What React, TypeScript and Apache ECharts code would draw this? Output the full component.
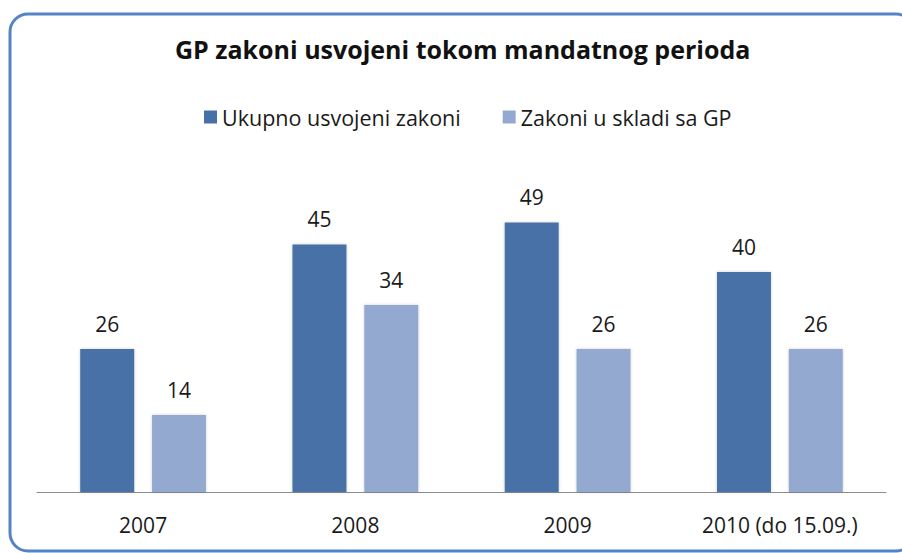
import React, { useEffect, useRef } from "react";
import * as echarts from "echarts";

const categories = ["2007", "2008", "2009", "2010 (do 15.09.)"];
const ukupno = [26, 45, 49, 40];
const uSkladu = [14, 34, 26, 26];
const seriesNames = ["Ukupno usvojeni zakoni", "Zakoni u skladi sa GP"];
const titleText = "GP zakoni usvojeni tokom mandatnog perioda";

const FONT = "'Open Sans', sans-serif";

export default function App() {
  const ref = useRef<HTMLDivElement>(null);
  useEffect(() => {
    if (!ref.current) return;
    const chart = echarts.init(ref.current, undefined, { renderer: "svg" });
    const labelStyle = {
      show: true,
      position: "top" as const,
      distance: 15,
      color: "#1a1a1a",
      fontSize: 21,
      fontFamily: FONT,
    };
    chart.setOption({
      animation: false,
      backgroundColor: "#ffffff",
      graphic: [
        {
          type: "rect",
          shape: { x: 10, y: 14, width: 904, height: 537, r: 18 },
          style: { fill: "#ffffff", stroke: "#5584c4", lineWidth: 3 },
          z: -10,
        },
      ],
      title: {
        text: titleText,
        left: 170,
        top: 31,
        textStyle: {
          fontFamily: FONT,
          fontWeight: "bold",
          fontSize: 25,
          color: "#111111",
        },
      },
      legend: {
        left: 199,
        top: 101,
        itemWidth: 13,
        itemHeight: 13,
        itemGap: 42,
        icon: "rect",
        textStyle: { fontFamily: FONT, fontSize: 21.5, color: "#1a1a1a" },
        data: seriesNames,
      },
      grid: { left: 37, right: 16, top: 162, bottom: 61 },
      xAxis: {
        type: "category",
        data: categories,
        axisLine: { lineStyle: { color: "#8c8c8c", width: 1 } },
        axisTick: { show: false },
        axisLabel: {
          fontFamily: FONT,
          fontSize: 21,
          color: "#1a1a1a",
          margin: 22,
        },
      },
      yAxis: {
        type: "value",
        min: 0,
        max: 60,
        show: false,
        splitLine: { show: false },
      },
      series: [
        {
          name: seriesNames[0],
          type: "bar",
          data: ukupno,
          barWidth: 54,
          barGap: "33%",
          itemStyle: {
            color: "#4671a7",
            shadowColor: "rgba(0,0,0,0.18)",
            shadowBlur: 3,
          },
          label: labelStyle,
        },
        {
          name: seriesNames[1],
          type: "bar",
          data: uSkladu,
          barWidth: 54,
          itemStyle: {
            color: "#94a9d0",
            shadowColor: "rgba(0,0,0,0.18)",
            shadowBlur: 3,
          },
          label: labelStyle,
        },
      ],
    });
    return () => chart.dispose();
  }, []);
  return (
    <div
      ref={ref}
      style={{ position: "fixed", left: 0, top: 0, width: 902, height: 553 }}
    />
  );
}
